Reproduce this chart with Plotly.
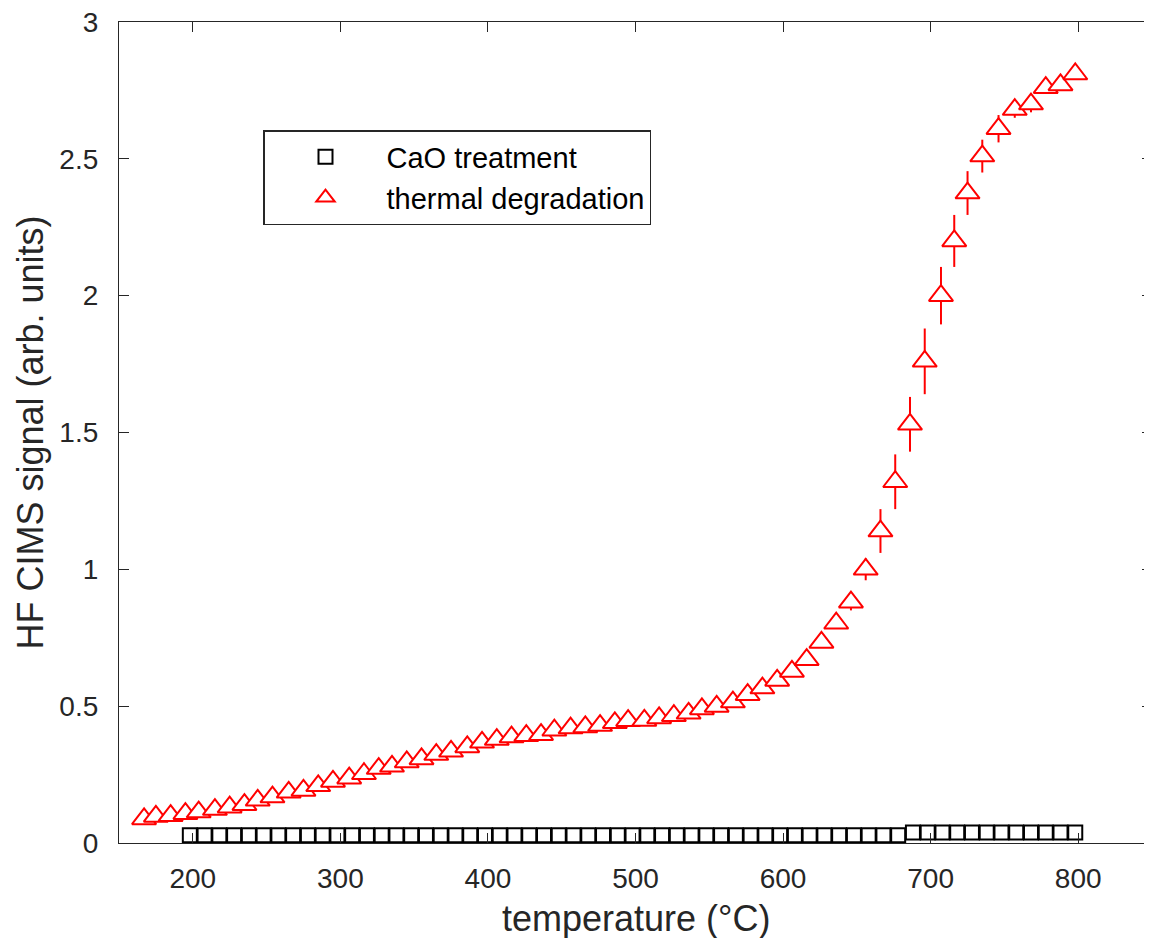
import plotly.graph_objects as go

# CaO treatment (squares)
cao_temp = [198, 208, 218, 228, 238, 248, 258, 268, 278, 288, 298, 308, 318, 328, 338,
            348, 358, 368, 378, 388, 398, 408, 418, 428, 438, 448, 458, 468, 478, 488,
            498, 508, 518, 528, 538, 548, 558, 568, 578, 588, 598, 608, 618, 628, 638,
            648, 658, 668, 678, 688, 698, 708, 718, 728, 738, 748, 758, 768, 778, 788, 798]
cao_signal = [0.028, 0.028, 0.028, 0.028, 0.028, 0.028, 0.028, 0.028, 0.028, 0.028,
              0.028, 0.028, 0.028, 0.028, 0.028, 0.028, 0.028, 0.028, 0.028, 0.028,
              0.028, 0.028, 0.028, 0.028, 0.028, 0.028, 0.028, 0.028, 0.028, 0.028,
              0.028, 0.028, 0.028, 0.028, 0.028, 0.028, 0.028, 0.028, 0.028, 0.028,
              0.028, 0.028, 0.028, 0.028, 0.028, 0.028, 0.028, 0.028, 0.028, 0.038,
              0.038, 0.038, 0.038, 0.038, 0.038, 0.038, 0.038, 0.038, 0.038, 0.038, 0.038]

# thermal degradation (triangles)
td_temp = [167, 175, 185, 195, 204, 215, 225, 235, 244, 254, 265, 275, 285, 295, 306,
           316, 326, 335, 345, 355, 365, 375, 386, 396, 406, 416, 426, 436, 445, 456,
           466, 476, 486, 495, 506, 516, 526, 536, 545, 555, 566, 576, 586, 596, 606,
           616, 626, 636, 646, 656, 666, 676, 686, 696, 707, 716, 725, 735, 746, 757,
           768, 778, 788, 798]
td_signal = [0.088, 0.097, 0.100, 0.107, 0.113, 0.122, 0.131, 0.140, 0.156, 0.168,
             0.185, 0.192, 0.209, 0.225, 0.237, 0.253, 0.272, 0.280, 0.296, 0.307,
             0.323, 0.335, 0.351, 0.368, 0.378, 0.387, 0.392, 0.396, 0.412, 0.420,
             0.424, 0.429, 0.439, 0.447, 0.448, 0.457, 0.465, 0.474, 0.490, 0.499,
             0.515, 0.542, 0.566, 0.594, 0.627, 0.670, 0.733, 0.803, 0.880, 1.000,
             1.140, 1.320, 1.530, 1.760, 2.000, 2.200, 2.375, 2.510, 2.610, 2.680,
             2.700, 2.760, 2.770, 2.810]
td_error = [0.005, 0.005, 0.005, 0.005, 0.005, 0.005, 0.005, 0.005, 0.005, 0.005,
            0.005, 0.005, 0.005, 0.005, 0.005, 0.005, 0.005, 0.005, 0.005, 0.005,
            0.005, 0.005, 0.005, 0.005, 0.005, 0.005, 0.005, 0.005, 0.005, 0.005,
            0.005, 0.005, 0.005, 0.005, 0.005, 0.005, 0.005, 0.005, 0.005, 0.005,
            0.005, 0.008, 0.008, 0.010, 0.010, 0.012, 0.015, 0.020, 0.030, 0.040,
            0.080, 0.100, 0.100, 0.120, 0.105, 0.095, 0.080, 0.060, 0.050, 0.030,
            0.030, 0.020, 0.020, 0.020]

x_ticks = [200, 300, 400, 500, 600, 700, 800]
y_ticks = [0, 0.5, 1, 1.5, 2, 2.5, 3]
y_tick_text = ["0", "0.5", "1", "1.5", "2", "2.5", "3"]

FONT = "Liberation Sans, Arial, Helvetica, sans-serif"
AX = "#262626"

fig = go.Figure()
fig.add_trace(go.Scatter(
    x=cao_temp, y=cao_signal, mode="markers", name="CaO treatment",
    marker=dict(symbol="square", size=14, color="white",
                line=dict(color="black", width=2)),
))
fig.add_trace(go.Scatter(
    x=td_temp, y=td_signal, mode="markers", name="thermal degradation",
    error_y=dict(type="data", array=td_error, visible=True, color="red",
                 thickness=2, width=0),
    marker=dict(symbol="triangle-up", size=21, color="white",
                line=dict(color="red", width=2)),
))

# page body has an 8px margin; figure coordinates = screen coordinates - 8
OFF = 8
W, H = 1152 - OFF, 946 - 2 * OFF
L, R, T = 119 - OFF, 0, 22 - OFF
B = H - (843 - OFF)
pw = W - L - R
ph = H - T - B


def px_x(sx):
    return (sx - OFF - L) / pw


def px_y(sy):
    return (H - B - (sy - OFF)) / ph


fig.update_layout(
    width=W, height=H,
    margin=dict(l=L, r=R, t=T, b=B),
    paper_bgcolor="white", plot_bgcolor="white",
    font=dict(family=FONT, size=28, color=AX),
    showlegend=True,
    legend=dict(
        x=px_x(263), y=px_y(130), xanchor="left", yanchor="top",
        bordercolor=AX, borderwidth=1.5, bgcolor="white",
        font=dict(family=FONT, size=29, color="black"),
        itemwidth=112,
    ),
    xaxis=dict(
        range=[150, 850], tickvals=x_ticks, ticks="inside", ticklen=10,
        tickwidth=1.3, tickcolor=AX, showline=True, linecolor=AX, linewidth=1.3,
        mirror="ticks", showgrid=False, zeroline=False,
        tickfont=dict(family=FONT, size=28, color=AX), ticklabelstandoff=10,
        ticklabeloverflow="allow",
    ),
    yaxis=dict(
        range=[0, 3], tickvals=y_ticks, ticktext=y_tick_text, ticks="inside",
        ticklen=10, tickwidth=1.3, tickcolor=AX, showline=True, linecolor=AX,
        linewidth=1.3, mirror="ticks", showgrid=False, zeroline=False,
        tickfont=dict(family=FONT, size=28, color=AX), ticklabelstandoff=14,
        ticklabeloverflow="allow",
    ),
    annotations=[
        dict(text="temperature (°C)", xref="paper", yref="paper",
             x=0.5, y=px_y(918), xanchor="center", yanchor="middle",
             showarrow=False, font=dict(family=FONT, size=36, color=AX)),
        dict(text="HF CIMS signal (arb. units)", xref="paper", yref="paper",
             x=px_x(30), y=0.5, xanchor="center", yanchor="middle",
             textangle=-90, showarrow=False,
             font=dict(family=FONT, size=36, color=AX)),
    ],
)

fig.write_html("out.html")
